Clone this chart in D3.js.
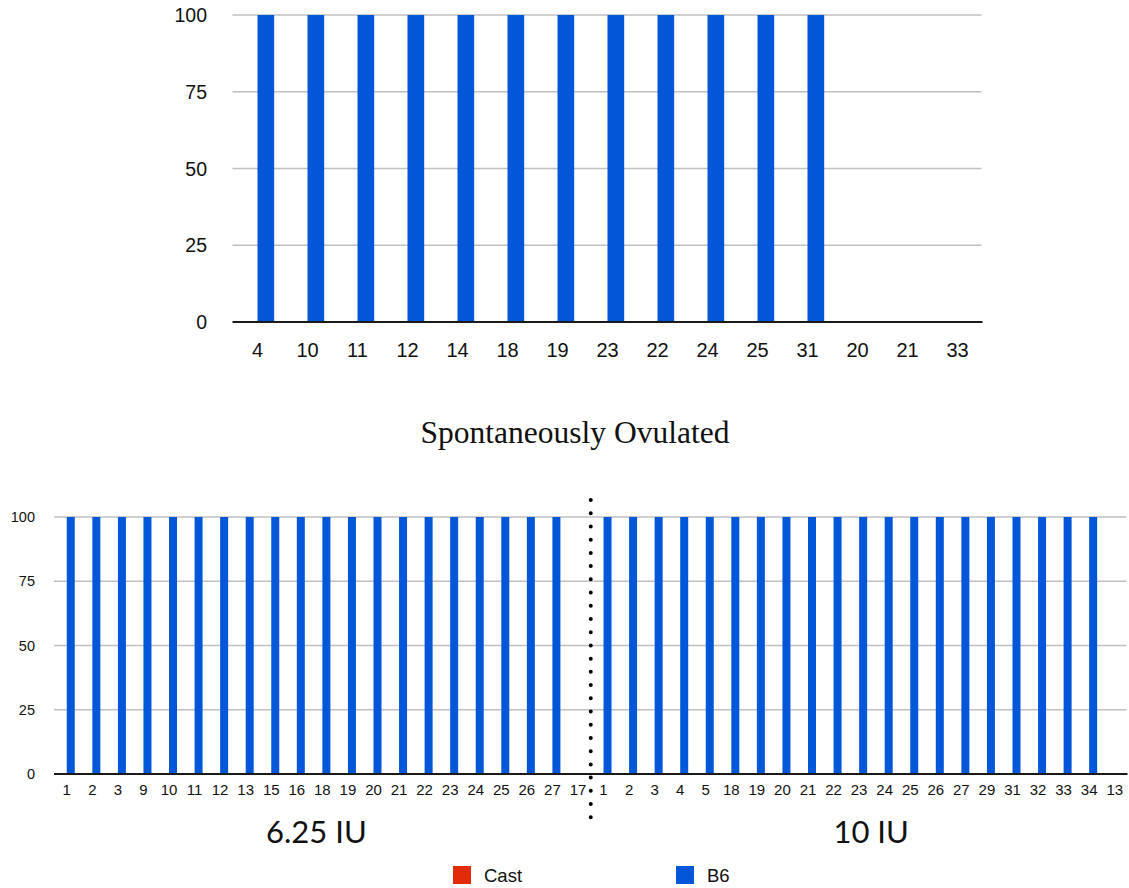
<!DOCTYPE html>
<html>
<head>
<meta charset="utf-8">
<script src="https://cdn.jsdelivr.net/npm/d3@7"></script>
<style>
  html, body { margin: 0; padding: 0; background: #fff; }
  svg { display: block; }
</style>
</head>
<body>
<svg id="chart" width="1129" height="888"></svg>
<script>
// ---------- DATA ----------
const seriesNames = ["Cast", "B6"];
const seriesColors = ["#e22b09", "#0257d9"];

// Top chart
const topCategories = ["4","10","11","12","14","18","19","23","22","24","25","31","20","21","33"];
const topCast = [0,0,0,0,0,0,0,0,0,0,0,0,0,0,0];
const topB6   = [100,100,100,100,100,100,100,100,100,100,100,100,0,0,0];
const topYTicks = [0, 25, 50, 75, 100];

// Bottom chart (Spontaneously Ovulated)
const title = "Spontaneously Ovulated";
const leftLabels  = ["1","2","3","9","10","11","12","13","15","16","18","19","20","21","22","23","24","25","26","27","17"];
const rightLabels = ["1","2","3","4","5","18","19","20","21","22","23","24","25","26","27","29","31","32","33","34","13"];
const leftCast  = [0,0,0,0,0,0,0,0,0,0,0,0,0,0,0,0,0,0,0,0,0];
const leftB6    = [100,100,100,100,100,100,100,100,100,100,100,100,100,100,100,100,100,100,100,100,0];
const rightCast = [0,0,0,0,0,0,0,0,0,0,0,0,0,0,0,0,0,0,0,0,0];
const rightB6   = [100,100,100,100,100,100,100,100,100,100,100,100,100,100,100,100,100,100,100,100,0];
const bottomYTicks = [0, 25, 50, 75, 100];
const groupLabels = ["6.25 IU", "10 IU"];

// ---------- DRAW ----------
const svg = d3.select("#chart");
const sans = "'Liberation Sans', Arial, Helvetica, sans-serif";

function drawChart(opts) {
  const { keys, labels, cast, b6, yTicks, xRange, yRange, barPad, yFont, xFont, yLabelX, xLabelY } = opts;
  const g = svg.append("g");
  const x = d3.scaleBand().domain(keys).range(xRange).paddingInner(barPad).paddingOuter(barPad / 2);
  const xs = d3.scaleBand().domain(seriesNames).range([0, x.bandwidth()]);
  const y = d3.scaleLinear().domain([0, 100]).range(yRange);

  // gridlines
  g.selectAll("line.grid").data(yTicks.filter(t => t !== 0)).join("line")
    .attr("x1", xRange[0]).attr("x2", xRange[1] - 1)
    .attr("y1", d => y(d)).attr("y2", d => y(d))
    .attr("stroke", "#c0c0c0").attr("stroke-width", 1.5);

  // y labels
  g.selectAll("text.ylab").data(yTicks).join("text")
    .attr("x", yLabelX).attr("y", d => y(d))
    .attr("dy", "0.36em")
    .attr("text-anchor", "end")
    .attr("font-family", sans).attr("font-size", yFont).attr("fill", "#111")
    .text(d => d);

  // bars
  const rows = keys.map((k, i) => ({ key: k, vals: [cast[i], b6[i]] }));
  const grp = g.selectAll("g.cat").data(rows).join("g")
    .attr("transform", d => `translate(${x(d.key)},0)`);
  grp.selectAll("rect").data(d => d.vals.map((v, j) => ({ s: seriesNames[j], v, c: seriesColors[j] })))
    .join("rect")
    .attr("x", d => xs(d.s)).attr("width", xs.bandwidth())
    .attr("y", d => y(d.v)).attr("height", d => y(0) - y(d.v))
    .attr("fill", d => d.c);

  // baseline
  g.append("line")
    .attr("x1", xRange[0]).attr("x2", xRange[1])
    .attr("y1", y(0)).attr("y2", y(0))
    .attr("stroke", "#1a1a1a").attr("stroke-width", 2);

  // x labels
  g.selectAll("text.xlab").data(rows).join("text")
    .attr("x", (d) => x(d.key) + x.bandwidth() / 2)
    .attr("y", xLabelY).attr("dy", "0.36em")
    .attr("text-anchor", "middle")
    .attr("font-family", sans).attr("font-size", xFont).attr("fill", "#111")
    .text((d, i) => labels[i]);

  return { x, y };
}

// Top chart
drawChart({
  keys: topCategories, labels: topCategories, cast: topCast, b6: topB6,
  yTicks: topYTicks, xRange: [232.5, 982.5], yRange: [322, 15], barPad: 0.333,
  yFont: 19.5, xFont: 20, yLabelX: 207, xLabelY: 350
});

// Bottom chart
const bottomKeys = leftLabels.map((l, i) => "L" + i).concat(rightLabels.map((l, i) => "R" + i));
const bottomLabels = leftLabels.concat(rightLabels);
const b = drawChart({
  keys: bottomKeys, labels: bottomLabels,
  cast: leftCast.concat(rightCast), b6: leftB6.concat(rightB6),
  yTicks: bottomYTicks, xRange: [54, 1127.5], yRange: [774, 517], barPad: 0.374,
  yFont: 14.5, xFont: 15, yLabelX: 35, xLabelY: 790
});

// Title
svg.append("text")
  .attr("x", 575).attr("y", 443)
  .attr("text-anchor", "middle")
  .attr("font-family", "'Liberation Serif', 'Times New Roman', serif")
  .attr("font-size", 31.5).attr("fill", "#111")
  .text(title);

// Dotted separator between groups
const lastLeft = "L" + (leftLabels.length - 1);
const firstRight = "R0";
const sepX = (b.x(lastLeft) + b.x.bandwidth() / 2 + b.x(firstRight) + b.x.bandwidth() / 2) / 2;
svg.append("line")
  .attr("x1", sepX).attr("x2", sepX)
  .attr("y1", 500).attr("y2", 822)
  .attr("stroke", "#000").attr("stroke-width", 4)
  .attr("stroke-linecap", "round")
  .attr("stroke-dasharray", "0,13.22");

// Group labels
const leftCenter = (b.x("L0") + b.x(lastLeft) + b.x.bandwidth()) / 2;
const rightCenter = (b.x(firstRight) + b.x("R" + (rightLabels.length - 1)) + b.x.bandwidth()) / 2;
svg.selectAll("text.grouplab").data(groupLabels).join("text")
  .attr("x", (d, i) => i === 0 ? leftCenter - 6 : rightCenter + 12)
  .attr("y", 843)
  .attr("text-anchor", "middle")
  .attr("font-family", "Lato, 'Open Sans', sans-serif")
  .attr("font-size", 31).attr("fill", "#111")
  .text(d => d);

// Legend
const legendX = [453, 676];
const lg = svg.selectAll("g.legend").data(seriesNames).join("g")
  .attr("transform", (d, i) => `translate(${legendX[i]},866)`);
lg.append("rect").attr("width", 18).attr("height", 18).attr("fill", (d, i) => seriesColors[i]);
lg.append("text").attr("x", 31).attr("y", 9).attr("dy", "0.36em")
  .attr("font-family", sans).attr("font-size", 18.5).attr("fill", "#111")
  .text(d => d);
</script>
</body>
</html>
